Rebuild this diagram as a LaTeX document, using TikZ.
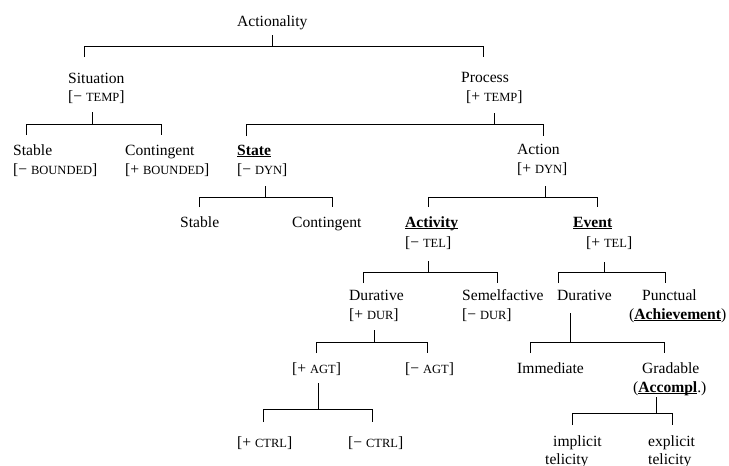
\documentclass[tikz,border=0pt]{standalone}
\usepackage{fontspec}
\setmainfont{Liberation Serif}
\newcommand\fsc[1]{{\fontsize{12.5}{14}\selectfont #1}}
\newcommand\bu[1]{\setbox0\hbox{\textbf{#1}}\rlap{\rule[-2.2pt]{\wd0}{1pt}}\box0}
\newcommand\fork[6]{\draw[tree] (#1,#2) -- (#1,#3) (#4,#6) -- (#4,#3) -- (#5,#3) -- (#5,#6);}
\tikzset{
  lbl/.style={anchor=base west, inner sep=0pt, font=\fontsize{15.6}{18}\selectfont},
  tree/.style={line width=1pt, black}
}
\begin{document}
\begin{tikzpicture}[x=1pt, y=-1pt]
\useasboundingbox (0,0) rectangle (729,466);
% labels
\node[lbl] (act) at (237,26) {Actionality};
\node[lbl] (sit) at (68,83) {Situation};
\node[lbl] (sitf) at (68,101) {[− \fsc{TEMP}]};
\node[lbl] (pro) at (461,82) {Process};
\node[lbl] (prof) at (466,101) {[+ \fsc{TEMP}]};
\node[lbl] (sta) at (13,155) {Stable};
\node[lbl] (staf) at (13,174) {[− \fsc{BOUNDED}]};
\node[lbl] (con) at (125,155) {Contingent};
\node[lbl] (conf) at (125,174) {[+ \fsc{BOUNDED}]};
\node[lbl] (state) at (237,155) {\bu{State}};
\node[lbl] (statef) at (237,174) {[− \fsc{DYN}]};
\node[lbl] (acn) at (517,154) {Action};
\node[lbl] (acnf) at (517,173) {[+ \fsc{DYN}]};
\node[lbl] (stb) at (180,227) {Stable};
\node[lbl] (cnb) at (292,227) {Contingent};
\node[lbl] (acty) at (405,227) {\bu{Activity}};
\node[lbl] (actyf) at (405,247) {[− \fsc{TEL}]};
\node[lbl] (evt) at (573,227) {\bu{Event}};
\node[lbl] (evtf) at (586,247) {[+ \fsc{TEL}]};
\node[lbl] (dura) at (349,300) {Durative};
\node[lbl] (duraf) at (349,319) {[+ \fsc{DUR}]};
\node[lbl] (sem) at (462,300) {Semelfactive};
\node[lbl] (semf) at (462,319) {[− \fsc{DUR}]};
\node[lbl] (durb) at (557,300) {Durative};
\node[lbl] (pun) at (642,300) {Punctual};
\node[lbl] (punf) at (629,319) {(\bu{Achievement})};
\node[lbl] (agtp) at (292,373) {[+ \fsc{AGT}]};
\node[lbl] (agtm) at (405,373) {[− \fsc{AGT}]};
\node[lbl] (imm) at (517,373) {Immediate};
\node[lbl] (gra) at (642,373) {Gradable};
\node[lbl] (graf) at (633,392) {(\bu{Accompl}.)};
\node[lbl] (ctrp) at (237,447) {[+ \fsc{CTRL}]};
\node[lbl] (ctrm) at (348,447) {[− \fsc{CTRL}]};
\node[lbl] (imp) at (553,446) {implicit};
\node[lbl] (impt) at (545,464) {telicity};
\node[lbl] (exp) at (648,446) {explicit};
\node[lbl] (expt) at (648,464) {telicity};
% connectors
\fork{272}{35}{46}{84}{483}{57}
\fork{92}{112}{124}{26}{161}{135}
\fork{494}{113}{124}{246}{543}{136}
\fork{265}{186}{197}{199}{332}{207}
\fork{545}{186}{197}{428}{597}{207}
\fork{428}{261}{272}{363}{497}{283}
\fork{604}{262}{272}{558}{665}{283}
\fork{374}{330}{342}{316}{427}{353}
\fork{570}{313}{342}{530}{664}{353}
\fork{656}{397}{413}{572}{672}{425}
\fork{318}{383}{409}{263}{372}{422}
\end{tikzpicture}
\end{document}
